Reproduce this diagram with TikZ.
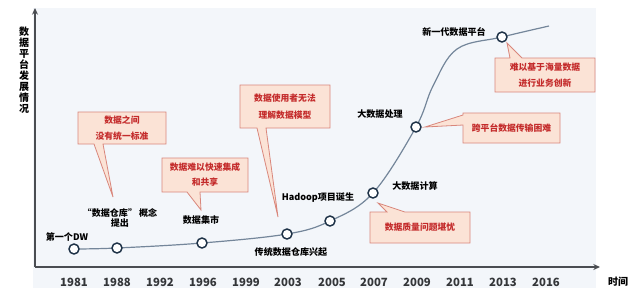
\documentclass[tikz,border=0pt]{standalone}
\usepackage{fontspec}
\setmainfont{Noto Sans CJK SC}
\usetikzlibrary{arrows.meta}

\definecolor{panelbg}{HTML}{F3F6FA}
\definecolor{axiscol}{HTML}{4A4D52}
\definecolor{trendcol}{HTML}{74869A}
\definecolor{ringcol}{HTML}{1E3247}
\definecolor{issuefill}{HTML}{FBE3D6}
\definecolor{issueedge}{HTML}{D9877C}
\definecolor{issuetext}{HTML}{C42B2B}

\begin{document}
\begin{tikzpicture}[x=0.75pt,y=-0.75pt,
        ring/.style={circle,draw=ringcol,fill=white,line width=1.1pt,minimum size=7.5pt,inner sep=0pt},
        event/.style={font=\fontsize{6.8}{8.2}\selectfont\bfseries,text=black,inner sep=0pt,align=center},
        year/.style={font=\fontsize{8.5}{10}\selectfont\bfseries,text=axiscol!70!black,inner sep=0pt},
        issue/.style={font=\fontsize{6.6}{12.5}\selectfont\bfseries,text=issuetext,inner sep=0pt,align=center},
        bubble/.style={draw=issueedge,fill=issuefill,line width=0.6pt,line join=miter},
        axis/.style={draw=axiscol,line width=1.5pt,-{Stealth[length=5pt,width=4.5pt]}}]

    \useasboundingbox (0,0) rectangle (640,298);
    \fill[panelbg] (33,8) rectangle (596,288);

    % Axes
    \coordinate (origin) at (35,267);
    \coordinate (ytop) at (35,8);
    \coordinate (xend) at (600,267);
    \draw[axis] (origin) -- (ytop);
    \draw[axis] (origin) -- (xend);
    \node[font=\fontsize{7.5}{8.3}\selectfont\bfseries,align=center,inner sep=0pt] (ytitle) at (24,70)
        {数\\据\\平\\台\\发\\展\\情\\况};
    \node[font=\fontsize{7.5}{9}\selectfont\bfseries,inner sep=0pt] (xtitle) at (618,282) {时间};

    % Years
    \foreach \yr/\px in {1981/74,1988/117,1992/160,1996/203,1999/246,2003/288,
                         2005/332,2007/374,2009/417,2011/460,2013/503,2016/546}
        \node[year] (y\yr) at (\px,282) {\yr};

    % Milestones on the curve
    \foreach \yr/\px/\py in {1981/74/249,1988/117/248,1996/202/243,2003/287/234,
                             2005/330/221,2007/373/193,2009/416/127,2013/502/37}
        \coordinate (p\yr) at (\px,\py);
    \coordinate (tail) at (549,26);

    \draw[trendcol,line width=0.9pt] plot[smooth,tension=0.6] coordinates
        {(p1981) (p1988) (p1996) (p2003) (p2005) (p2007) (p2009) (433,86) (457,49) (p2013) (tail)};

    \foreach \yr in {1981,1988,1996,2003,2005,2007,2009,2013}
        \node[ring] (r\yr) at (p\yr) {};

    % Event labels
    \node[event] (firstdw) at (67,237) {第一个DW};
    \node[event] (concept) at (120,218) {“数据仓库” 概念\\提出};
    \node[event] (mart) at (201,220) {数据集市};
    \node[event] (rise) at (291,252) {传统数据仓库兴起};
    \node[event] (hadoop) at (318,198) {Hadoop项目诞生};
    \node[event] (bigcalc) at (415,186) {大数据计算};
    \node[event] (bigproc) at (380,114) {大数据处理};
    \node[event] (newgen) at (454,32) {新一代数据平台};

    % Issue callouts
    \path[bubble] (78,112) -- (166,112) -- (166,144) -- (103,144) -- (113,197) -- (94,144) -- (78,144) -- cycle;
    \node[issue] (nostd) at (122,128) {数据之间\\没有统一标准};

    \path[bubble] (240,85) -- (330,85) -- (330,128) -- (266,128) -- (278,217) -- (257,128) -- (240,128) -- cycle;
    \node[issue] (nomodel) at (285,106.5) {数据使用者无法\\理解数据模型};

    \path[bubble] (162,158) -- (248,158) -- (248,192) -- (200,192) -- (201,210) -- (187,192) -- (162,192) -- cycle;
    \node[issue,font=\fontsize{6.6}{11.3}\selectfont\bfseries] (noshare) at (205,175) {数据难以快速集成\\和共享};

    \path[bubble] (463,113) -- (560,113) -- (560,143) -- (463,143) -- (463,125) -- (425,127) -- (463,115) -- cycle;
    \node[issue] (transfer) at (511.5,128) {跨平台数据传输困难};

    \path[bubble] (495,58) -- (510,58) -- (507,43) -- (522,58) -- (595,58) -- (595,92) -- (495,92) -- cycle;
    \node[issue] (innov) at (545,75) {难以基于海量数据\\进行业务创新};

    \path[bubble] (370,212) -- (387,212) -- (378,203) -- (405,212) -- (470,212) -- (470,243) -- (370,243) -- cycle;
    \node[issue] (quality) at (420,227.5) {数据质量问题堪忧};
\end{tikzpicture}
\end{document}
